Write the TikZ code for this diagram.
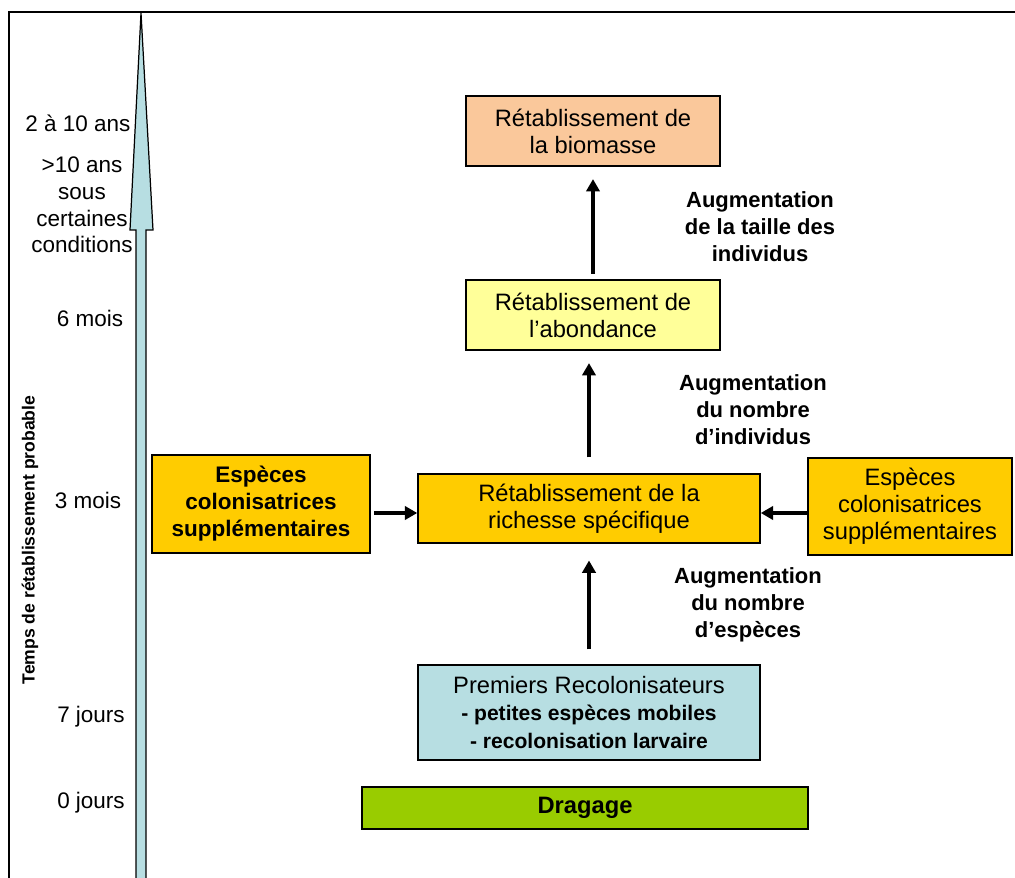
\documentclass[tikz,border=0pt]{standalone}
\usepackage{fontspec}
\setmainfont{Liberation Sans}
\usepackage{tikz}
\usetikzlibrary{arrows.meta}
\definecolor{peche}{RGB}{250,200,155}
\definecolor{jaunepale}{RGB}{255,255,153}
\definecolor{orange}{RGB}{255,204,0}
\definecolor{bleupale}{RGB}{183,222,226}
\definecolor{vert}{RGB}{153,204,0}

\begin{document}
\begin{tikzpicture}[x=0.02cm, y=-0.02cm,
		boite/.style={draw=black, line width=0.9pt, align=center, inner sep=0pt, font=\fontsize{13.5}{15.4}\selectfont},
		fleche/.style={line width=2.3pt, -{Triangle[length=7pt, width=7.5pt]}},
		aug/.style={align=center, font=\bfseries\fontsize{12.5}{15.4}\selectfont},
		temps/.style={align=center, font=\fontsize{12.8}{15.2}\selectfont}]
				\useasboundingbox (0,0) rectangle (1015,878);
				\draw[line width=1.1pt] (9,878) -- (9,12) -- (1015,12);
				\filldraw[draw=black, fill=bleupale, line width=0.7pt] (136,890) -- (136,230) -- (130,230) -- (141,13) -- (153,230) -- (146,230) -- (146,890);
				
				\node[temps] (ans) at (78,123) {2 à 10 ans};
				\node[temps] (conditions) at (82,205) {>10 ans\\sous\\certaines\\conditions};
				\node[temps] (sixmois) at (90,318) {6 mois};
				\node[temps] (troismois) at (88,500) {3 mois};
				\node[temps] (septjours) at (91,717) {7 jours};
				\node[temps] (zerojours) at (91,803) {0 jours};
				\node[rotate=90, font=\bfseries\fontsize{10}{12}\selectfont] (titre) at (30,540) {Temps de rétablissement probable};
				
				\node[boite, fill=peche, minimum width=5.08cm, minimum height=1.4cm] (biomasse) at (593,131) {Rétablissement de\\la biomasse};
				\node[boite, fill=jaunepale, minimum width=5.08cm, minimum height=1.4cm] (abondance) at (593,315) {Rétablissement de\\l’abondance};
				\node[boite, fill=orange, minimum width=6.84cm, minimum height=1.38cm] (richesse) at (589,508.5) {Rétablissement de la\\richesse spécifique};
				\node[boite, fill=orange, minimum width=4.36cm, minimum height=1.96cm, font=\bfseries\fontsize{12.8}{15.4}\selectfont] (especesg) at (261,504) {Espèces\\colonisatrices\\supplémentaires};
				\node[boite, fill=orange, minimum width=4.08cm, minimum height=1.94cm] (especesd) at (910,506.5) {Espèces\\colonisatrices\\supplémentaires};
				\node[boite, fill=bleupale, minimum width=6.84cm, minimum height=1.9cm] (premiers) at (589,712.5) {Premiers Recolonisateurs\\{\bfseries\fontsize{12}{15.4}\selectfont - petites espèces mobiles}\\{\bfseries\fontsize{12}{15.4}\selectfont - recolonisation larvaire}};
				\node[boite, fill=vert, minimum width=8.92cm, minimum height=0.84cm, font=\bfseries\fontsize{13.5}{15.4}\selectfont] (dragage) at (585,808) {Dragage};
				\coordinate (entreeg) at ([yshift=-0.09cm]richesse.west);
				\coordinate (entreed) at ([yshift=-0.09cm]richesse.east);
				
				\draw[fleche, shorten <=8.5pt, shorten >=9.5pt] (premiers.north) -- (richesse.south);
				\draw[fleche, shorten <=9pt, shorten >=7pt] (richesse.north) -- (richesse.north |- abondance.south);
				\draw[fleche, shorten <=3pt, shorten >=7pt] (abondance.north) -- (biomasse.south);
				\draw[fleche, shorten <=2pt] (especesg.east |- entreeg) -- (entreeg);
				\draw[fleche] (especesd.west |- entreed) -- (entreed);
				
				\node[aug] (taille) at (760,227) {Augmentation\\de la taille des\\individus};
				\node[aug] (nombreind) at (753,410) {Augmentation\\du nombre\\d’individus};
				\node[aug] (nombreesp) at (748,605) {Augmentation\\du nombre\\d’espèces};
			\end{tikzpicture}
\end{document}
